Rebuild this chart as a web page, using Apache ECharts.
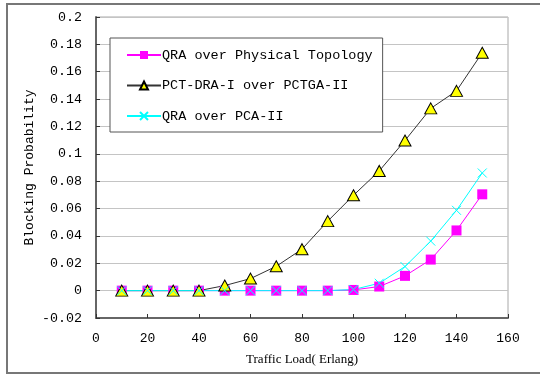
<!DOCTYPE html>
<html>
<head>
<meta charset="utf-8">
<script src="https://cdn.jsdelivr.net/npm/echarts@6/dist/echarts.min.js"></script>
<style>
html,body{margin:0;padding:0;background:#fff;}
#c{width:540px;height:376px;}
</style>
</head>
<body>
<div id="c"></div>
<script>
var trafficLoad = [10, 20, 30, 40, 50, 60, 70, 80, 90, 100, 110, 120, 130, 140, 150];
var qraPhysical = [0, 0, 0, 0, 0, 0, 0, 0, 0, 0.0005, 0.003, 0.0108, 0.0227, 0.044, 0.0704];
var pctDra = [0, 0, 0, 0, 0.0037, 0.0088, 0.0178, 0.0303, 0.0508, 0.0697, 0.0875, 0.1097, 0.1332, 0.146, 0.1739];
var qraPca = [0, 0, 0, 0, 0, 0, 0, 0, 0, 0.0008, 0.0054, 0.0176, 0.0362, 0.0587, 0.086];
var seriesNames = ['QRA over Physical Topology', 'PCT-DRA-I over PCTGA-II', 'QRA over PCA-II'];

function pairs(arr) { return trafficLoad.map(function (x, i) { return [x, arr[i]]; }); }

var mono = 'Liberation Mono';
var chart = echarts.init(document.getElementById('c'), null, { renderer: 'canvas' });
chart.setOption({
  animation: false,
  backgroundColor: '#fff',
  graphic: [{
    type: 'rect', z: -10, silent: true,
    shape: { x: 7, y: 4, width: 600, height: 369 },
    style: { fill: 'none', stroke: '#777', lineWidth: 2 }
  }],
  grid: { left: 96, top: 17, right: 32, bottom: 58, show: true, borderColor: '#a8a8a8', borderWidth: 1, backgroundColor: 'transparent' },
  legend: {
    orient: 'vertical', left: 110, top: 38,
    padding: [10, 10, 9, 16], itemGap: 16.5,
    itemWidth: 34, itemHeight: 10,
    backgroundColor: '#fff', borderColor: '#555', borderWidth: 1,
    textStyle: { fontFamily: mono, fontSize: 13.5, color: '#000', padding: [0, 0, 0, -4] },
    data: seriesNames
  },
  xAxis: {
    type: 'value', min: 0, max: 160, interval: 20,
    name: 'Traffic Load( Erlang)', nameLocation: 'middle', nameGap: 35,
    nameMoveOverlap: false,
    nameTextStyle: { fontFamily: 'Liberation Serif', fontSize: 13, color: '#000' },
    axisLine: { show: true, onZero: false, lineStyle: { color: '#666', width: 2 } },
    axisTick: { show: true, inside: true, length: 4, lineStyle: { color: '#333' } },
    axisLabel: { fontFamily: mono, fontSize: 13, color: '#000', margin: 14 },
    splitLine: { show: false }
  },
  yAxis: {
    type: 'value', min: -0.02, max: 0.2, interval: 0.02,
    name: 'Blocking Probability', nameLocation: 'middle', nameGap: 60, nameRotate: 90,
    nameMoveOverlap: false,
    nameTextStyle: { fontFamily: mono, fontSize: 13, color: '#000' },
    axisLine: { show: true, onZero: false, lineStyle: { color: '#666', width: 2 } },
    axisTick: { show: true, inside: true, length: 4, lineStyle: { color: '#333' } },
    axisLabel: {
      fontFamily: mono, fontSize: 13.3, color: '#000', margin: 14,
      formatter: function (v) { return String(parseFloat(v.toFixed(2))); }
    },
    splitLine: { show: true, lineStyle: { color: '#c4c4c4', width: 1 } }
  },
  series: [{
    name: seriesNames[0], type: 'line', data: pairs(qraPhysical),
    symbol: 'rect', symbolSize: 10, showAllSymbol: true,
    lineStyle: { color: '#ff00ff', width: 1 },
    itemStyle: { color: '#ff00ff', borderWidth: 0 }
  }, {
    name: seriesNames[1], type: 'line', data: pairs(pctDra),
    symbol: 'triangle', symbolSize: [12, 11], showAllSymbol: true,
    lineStyle: { color: '#333', width: 1 },
    itemStyle: { color: '#ffff00', borderColor: '#000', borderWidth: 1 }
  }, {
    name: seriesNames[2], type: 'line', data: pairs(qraPca),
    symbol: 'path://M0,0L10,10M10,0L0,10', symbolSize: 9, showAllSymbol: true,
    lineStyle: { color: '#00ffff', width: 1 },
    itemStyle: { color: 'none', borderColor: '#00ffff', borderWidth: 1 }
  }]
});
</script>
</body>
</html>
